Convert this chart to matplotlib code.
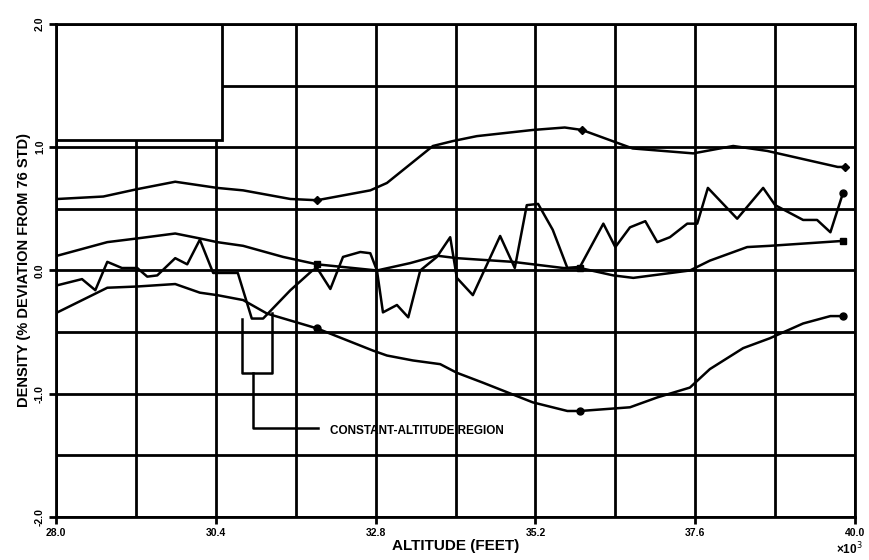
import numpy as np
import matplotlib.pyplot as plt
from matplotlib.patches import Rectangle

# %% Data (altitude in 1000 ft, density % deviation)

# upper smooth curve (diamonds)
alt_a = [28.02, 28.71, 29.22, 29.79, 30.42, 30.81, 31.52, 31.92, 32.72, 32.97, 33.66,
         33.96, 34.32, 35.16, 35.64, 35.90, 36.66, 37.57, 38.17, 38.68, 39.74, 39.85]
dens_a = [0.58, 0.60, 0.66, 0.72, 0.67, 0.65, 0.58, 0.57, 0.65, 0.71, 1.01,
          1.05, 1.09, 1.14, 1.16, 1.14, 0.99, 0.95, 1.01, 0.97, 0.84, 0.84]
marks_a = [7, 15, 21]

# middle smooth curve (squares)
alt_b = [28.02, 28.77, 29.22, 29.79, 30.16, 30.42, 30.81, 31.41, 31.92, 32.82, 33.32, 33.72,
         34.02, 34.86, 35.62, 35.87, 36.37, 36.67, 37.52, 37.82, 38.38, 38.72, 39.82]
dens_b = [0.12, 0.23, 0.26, 0.30, 0.26, 0.23, 0.20, 0.11, 0.05, 0.00, 0.06, 0.12,
          0.10, 0.07, 0.02, 0.02, -0.04, -0.06, 0.00, 0.08, 0.19, 0.20, 0.24]
marks_b = [8, 15, 22]

# measured profile (zigzag)
alt_c = [28.02, 28.39, 28.59, 28.77, 28.99, 29.22, 29.37, 29.52, 29.79, 29.97, 30.16, 30.36,
         30.73, 30.94, 31.11, 31.52, 31.85, 31.92, 32.12, 32.31, 32.57, 32.72, 32.82, 32.91,
         33.12, 33.29, 33.47, 33.72, 33.92, 34.02, 34.26, 34.67, 34.89, 35.07, 35.24, 35.46,
         35.68, 35.87, 36.22, 36.40, 36.62, 36.85, 37.03, 37.22, 37.48, 37.63, 37.79, 38.23,
         38.62, 38.80, 39.22, 39.43, 39.63, 39.82]
dens_c = [-0.12, -0.07, -0.16, 0.07, 0.02, 0.02, -0.05, -0.04, 0.10, 0.05, 0.25, -0.02,
          -0.02, -0.39, -0.39, -0.16, 0.00, 0.02, -0.15, 0.11, 0.15, 0.14, 0.00, -0.34,
          -0.28, -0.38, 0.00, 0.11, 0.27, -0.06, -0.20, 0.28, 0.02, 0.53, 0.54, 0.33,
          0.02, 0.03, 0.38, 0.19, 0.35, 0.40, 0.23, 0.27, 0.38, 0.38, 0.67, 0.42,
          0.67, 0.53, 0.41, 0.41, 0.31, 0.63]
marks_c = [53]

# lower smooth curve
alt_d = [28.02, 28.77, 29.22, 29.79, 30.16, 30.42, 30.81, 31.17, 31.92, 32.76, 32.97, 33.36,
         33.77, 34.02, 34.41, 35.16, 35.68, 35.87, 36.62, 37.03, 37.52, 37.82, 38.32, 38.72,
         39.22, 39.63, 39.82]
dens_d = [-0.34, -0.14, -0.13, -0.11, -0.18, -0.20, -0.24, -0.35, -0.47, -0.65, -0.69, -0.73,
          -0.76, -0.83, -0.91, -1.07, -1.14, -1.14, -1.11, -1.03, -0.95, -0.80, -0.63, -0.55,
          -0.43, -0.37, -0.37]
marks_d = [8, 17, 26]

x_ticks = [28.0, 30.4, 32.8, 35.2, 37.6, 40.0]
y_ticks = [-2.0, -1.0, 0.0, 1.0, 2.0]

# %% Plot
plt.rcParams['font.family'] = ['Liberation Sans', 'DejaVu Sans']

fig = plt.figure(figsize=(8.7, 5.6), dpi=100)
ax = fig.add_axes([0.0644, 0.0768, 0.9184, 0.8804])

ax.set_xlim(28, 40)
ax.set_ylim(-2, 2)
ax.set_xticks(x_ticks)
ax.set_xticks(np.arange(28, 40.01, 1.2), minor=True)
ax.set_yticks(y_ticks)
ax.set_yticks(np.arange(-2, 2.01, 0.5), minor=True)
ax.set_xticklabels([f'{v:.1f}' for v in x_ticks], fontsize=7.5, fontweight='bold')
ax.set_yticklabels([f'{v:.1f}' for v in y_ticks], fontsize=7.5, fontweight='bold',
                   rotation=90, va='center')
ax.tick_params(which='major', direction='out', length=5, width=2, pad=3)
ax.tick_params(which='minor', length=0)
ax.set_axisbelow(True)
ax.grid(which='both', color='black', linewidth=2)
for s in ax.spines.values():
    s.set_linewidth(2)

# blank legend box in the top-left corner
ax.add_patch(Rectangle((28, 1.055), 2.49, 0.945, facecolor='white', edgecolor='black',
                       linewidth=2, zorder=2))

line_kw = dict(color='black', linewidth=1.8, zorder=3, markersize=5)
ax.plot(alt_a, dens_a, marker='D', markevery=marks_a, markersize=4, color='black',
        linewidth=1.8, zorder=3)
ax.plot(alt_b, dens_b, marker='s', markevery=marks_b, **line_kw)
ax.plot(alt_c, dens_c, marker='o', markevery=marks_c, **line_kw)
ax.plot(alt_d, dens_d, marker='o', markevery=marks_d, **line_kw)

# constant-altitude region bracket
br_x = [30.79, 30.79, 31.24, 31.24]
br_y = [-0.39, -0.828, -0.828, -0.349]
ax.plot(br_x, br_y, color='black', linewidth=1.8, zorder=3)
ax.plot([30.96, 30.96, 31.94], [-0.828, -1.274, -1.274], color='black', linewidth=1.8, zorder=3)
ax.text(32.12, -1.30, 'CONSTANT-ALTITUDE REGION', fontsize=8.5, fontweight='bold',
        va='center', ha='left', zorder=4)

ax.set_xlabel('ALTITUDE (FEET)', fontsize=11, fontweight='bold', labelpad=1)
ax.set_ylabel('DENSITY (% DEVIATION FROM 76 STD)', fontsize=10.5, fontweight='bold', labelpad=3)
fig.text(0.976, 0.004, '×10$^3$', fontsize=8.5, fontweight='bold', ha='center', va='bottom')

fig.savefig('out.png', dpi=100)
